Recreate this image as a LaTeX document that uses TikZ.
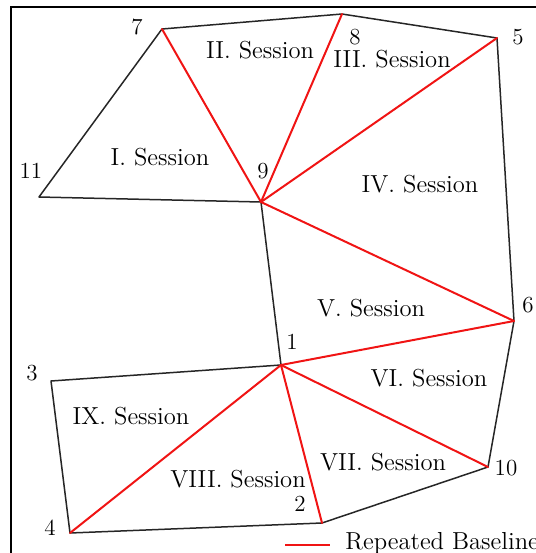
\documentclass[tikz,border=0pt]{standalone}
\usepackage{xcolor}
\definecolor{BaseRed}{RGB}{240,20,20}
\usepackage{tikz}
\usetikzlibrary{positioning}

\begin{document}
\begin{tikzpicture}[
  x=0.5pt, y=-0.5pt,
  edge/.style={draw=black!85, line width=0.75pt, line join=round},
  base/.style={draw=BaseRed, line width=1pt, line cap=round},
  sess/.style={font=\fontsize{12.3}{14}\selectfont, inner sep=0pt},
  num/.style={font=\fontsize{11.5}{13}\selectfont, inner sep=0pt}
]
  \useasboundingbox (0,0) rectangle (536,553);
  \begin{scope}
    \clip (0,0) rectangle (536,553);
    \draw[line width=1pt] (11,7) rectangle (560,580);
  \end{scope}

  % station points
  \coordinate (p1) at (281,365);
  \coordinate (p2) at (322,523);
  \coordinate (p3) at (51,381);
  \coordinate (p4) at (70,533);
  \coordinate (p5) at (497,38);
  \coordinate (p6) at (514,321);
  \coordinate (p7) at (162,29);
  \coordinate (p8) at (342,14);
  \coordinate (p9) at (261,202);
  \coordinate (p10) at (488,467);
  \coordinate (p11) at (39,197);

  % outline
  \draw[edge] (p11)--(p7)--(p8)--(p5)--(p6)--(p10)--(p2)--(p4)--(p3)--(p1)--(p9)--cycle;

  % repeated baselines
  \draw[base] (p7)--(p9); \draw[base] (p8)--(p9);
  \draw[base] (p5)--(p9); \draw[base] (p9)--(p6);
  \draw[base] (p6)--(p1); \draw[base] (p1)--(p10);
  \draw[base] (p1)--(p2); \draw[base] (p1)--(p4);

  % point numbers
  \node[num] (n1) at (292,342) {1};
  \node[num] (n2) at (300,504) {2};
  \node[num] (n3) at (32,373) {3};
  \node[num] (n4) at (50,528) {4};
  \node[num] (n5) at (518,37) {5};
  \node[num] (n6) at (528,305) {6};
  \node[num] (n7) at (137,27) {7};
  \node[num] (n8) at (355,37) {8};
  \node[num] (n9) at (263,171) {9};
  \node[num] (n10) at (506,468) {10};
  \node[num] (n11) at (31,171) {11};

  % sessions
  \node[sess] (s1) at (160,157) {I. Session};
  \node[sess] (s2) at (260,50) {II. Session};
  \node[sess] (s3) at (392,59) {III. Session};
  \node[sess] (s4) at (420,184) {IV. Session};
  \node[sess] (s5) at (371,308) {V. Session};
  \node[sess] (s6) at (429,378) {VI. Session};
  \node[sess] (s7) at (383,462) {VII. Session};
  \node[sess] (s8) at (238,479) {VIII. Session};
  \node[sess] (s9) at (131,416) {IX. Session};

  % legend
  \coordinate (lgA) at (285,545);
  \coordinate (lgB) at (330,545);
  \draw[base, line cap=butt] (lgA)--(lgB);
  \node[sess, anchor=base west] (lgtxt) at (345,549) {Repeated Baseline};
\end{tikzpicture}
\end{document}
